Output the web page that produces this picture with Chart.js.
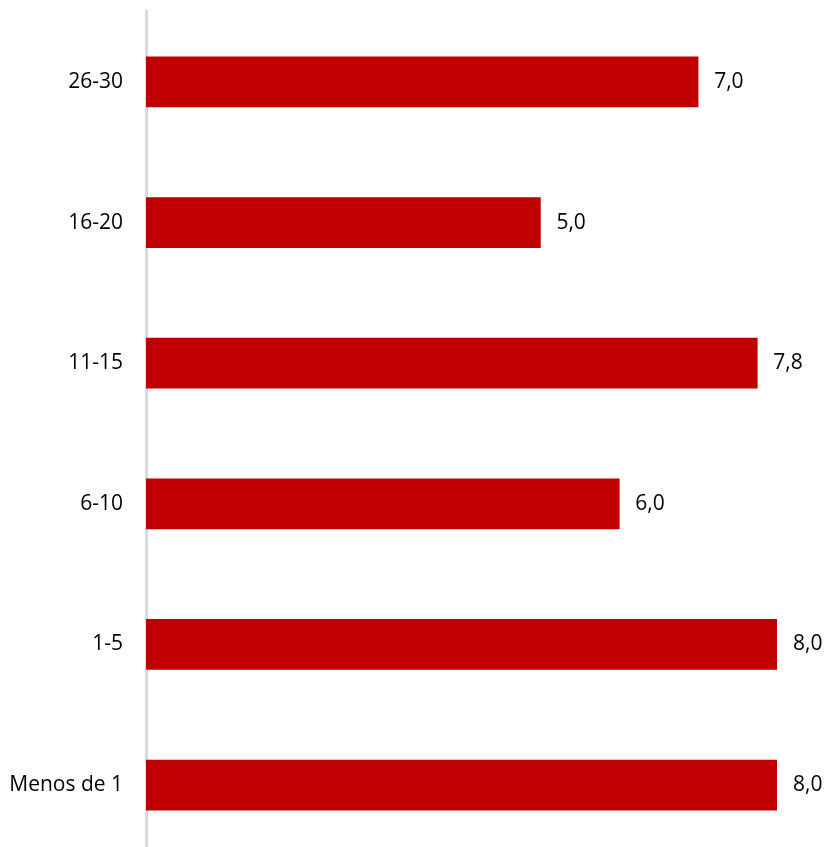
<!DOCTYPE html>
<html lang="es">
<head>
<meta charset="UTF-8">
<title>Barras</title>
<script src="https://cdn.jsdelivr.net/npm/chart.js"></script>
<style>
    html, body {
        margin: 0;
        padding: 0;
        background: #ffffff;
        overflow: hidden;
    }
    .wrap {
        position: relative;
        width: 829px;
        height: 915px;
        margin-top: -24px;
    }
</style>
</head>
<body>
<div class="wrap">
    <canvas id="chart"></canvas>
</div>
<script>
    const categories = ['26-30', '16-20', '11-15', '6-10', '1-5', 'Menos de 1'];
    const values = [7.0, 5.0, 7.75, 6.0, 8.0, 8.0];

    const fontFamily = '"Open Sans", "Liberation Sans", sans-serif';

    // etiquetas de valor a la derecha de cada barra
    const valueLabels = {
        id: 'valueLabels',
        afterDatasetsDraw(chart) {
            const ctx = chart.ctx;
            const meta = chart.getDatasetMeta(0);
            ctx.save();
            ctx.font = '21px ' + fontFamily;
            ctx.fillStyle = '#000000';
            ctx.textAlign = 'left';
            ctx.textBaseline = 'middle';
            meta.data.forEach((bar, i) => {
                const txt = values[i].toFixed(1).replace('.', ',');
                ctx.fillText(txt, bar.x + 16, bar.y);
            });
            ctx.restore();
        }
    };

    const ctx = document.getElementById('chart').getContext('2d');
    new Chart(ctx, {
        type: 'bar',
        data: {
            labels: categories,
            datasets: [{
                data: values,
                backgroundColor: '#c00000',
                borderWidth: 0,
                barThickness: 50
            }]
        },
        options: {
            indexAxis: 'y',
            responsive: true,
            maintainAspectRatio: false,
            animation: false,
            layout: {
                padding: { top: 12, right: 52, bottom: 8, left: 0 }
            },
            plugins: {
                legend: { display: false },
                tooltip: { enabled: false }
            },
            scales: {
                x: {
                    display: false,
                    min: 0,
                    max: 8
                },
                y: {
                    afterFit(scale) {
                        scale.width = 146;
                    },
                    grid: { display: false, drawTicks: false },
                    border: { display: true, color: '#d9d9d9', width: 3 },
                    ticks: {
                        color: '#000000',
                        padding: 23,
                        font: { family: fontFamily, size: 21 }
                    }
                }
            }
        },
        plugins: [valueLabels]
    });
</script>
</body>
</html>
